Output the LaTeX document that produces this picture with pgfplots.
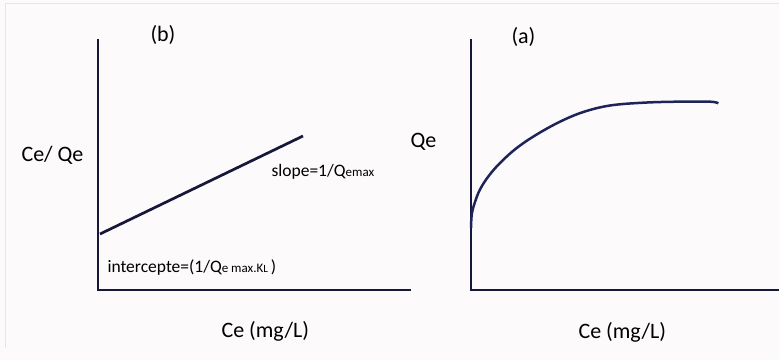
\documentclass[border=0pt]{standalone}
\usepackage{pgfplots}
\pgfplotsset{compat=1.18}
\usepackage{fontspec}
\setmainfont{Carlito}
\definecolor{bg}{HTML}{FCFAFA}
\definecolor{frame}{HTML}{E6E6E6}
\definecolor{ink}{HTML}{17173A}
\definecolor{curve}{HTML}{1E2458}
\definecolor{txt}{HTML}{161616}
\newcommand{\lab}{\fontsize{22}{24}\selectfont}
\newcommand{\midsz}{\fontsize{17.5}{19}\selectfont}
\newcommand{\sml}{\fontsize{13}{14}\selectfont}
\newcommand{\tny}{\fontsize{11}{12}\selectfont}
\pgfplotsset{
  sketch/.style={
    scale only axis, anchor=south west,
    axis lines=left,
    axis line style={-, line width=2.5pt, ink, line cap=rect},
    ticks=none, clip=false,
    every node/.append style={inner sep=0pt, text=txt},
  }
}
\begin{document}
\begin{tikzpicture}
% page background and faint frame
\path[use as bounding box, fill=bg] (0pt,0pt) rectangle (779pt,360pt);
\draw[frame, line width=1pt] (5pt,12pt) -- (5pt,357pt) -- (779pt,357pt);

% (b) linearised Langmuir plot
\begin{axis}[sketch, at={(98pt,70pt)}, width=312pt, height=250pt,
  xmin=0, xmax=312, ymin=0, ymax=250]
\addplot[ink, line width=2.7pt] coordinates {(2,56) (205,154)};
\node[anchor=west, font=\lab] at (axis cs:49,255) {(b)};
\node[anchor=west, font=\lab] at (axis cs:-80,135) {Ce/ Qe};
\node[anchor=west, font=\midsz] at (axis cs:170,118) {slope=1/Q{\sml emax}};
\node[anchor=west, font=\midsz] at (axis cs:6,22) {intercepte=(1/Q{\sml e max.K{\tny L} })};
\node[anchor=west, font=\lab] at (axis cs:120,-41) {Ce (mg/L)};
\end{axis}

% (a) Langmuir isotherm
\begin{axis}[sketch, at={(471pt,70pt)}, width=308pt, height=250pt,
  xmin=0, xmax=308, ymin=0, ymax=250]
\addplot[curve, line width=2.5pt, smooth, tension=0.6] coordinates {
  (0,62) (0.8,76) (4,88) (9,100.5) (17.3,113.5) (29,127) (45.7,142)
  (65.7,155.5) (89,168.3) (112.3,178) (139,184.5) (172.3,187.3)
  (205.7,188.3) (239,188.3) (247.3,186.7)};
\node[anchor=west, font=\lab] at (axis cs:37,253) {(a)};
\node[anchor=west, font=\lab] at (axis cs:-64,148) {Qe};
\node[anchor=west, font=\lab] at (axis cs:104,-42) {Ce (mg/L)};
\end{axis}
\end{tikzpicture}
\end{document}
